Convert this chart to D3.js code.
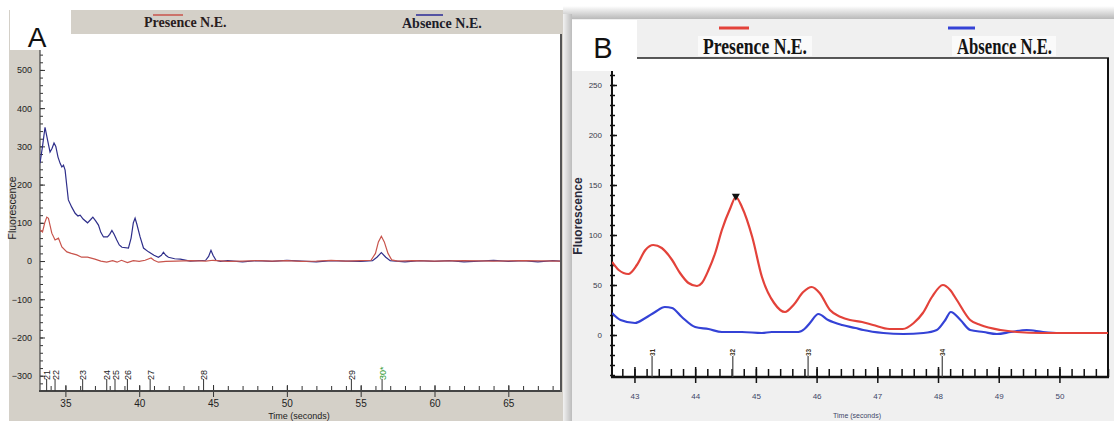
<!DOCTYPE html>
<html>
<head>
<meta charset="utf-8">
<script src="https://cdn.jsdelivr.net/npm/d3@7"></script>
<style>
body { margin: 0; background: #fff; }
</style>
</head>
<body>
<svg id="chart" width="1114" height="421" font-family="'Liberation Sans', Arial, sans-serif"></svg>
<script>
// ---- panel A data (time in seconds, fluorescence) ----
var aBlueTime = [33.28,33.45,33.62,33.8,33.96,34.1,34.23,34.35,34.5,34.65,34.76,34.87,34.98,35.1,35.2,35.43,35.66,35.85,36.0,36.2,36.5,36.7,36.86,37.05,37.24,37.4,37.58,37.85,38.0,38.15,38.3,38.48,38.65,38.83,39.27,39.45,39.6,39.72,39.85,40.06,40.29,40.63,41.0,41.3,41.5,41.64,41.8,41.98,42.4,42.78,43.45,44.0,44.5,44.7,44.86,45.0,45.2,45.5,46,47,48,49,50,51,52,53,54,55,55.8,56.1,56.4,56.7,57.0,58,59,60,61,62,63,64,65,66,67,68,68.5];
var aBlueVal  = [256,300,350,315,285,295,309,300,272,255,246,251,238,195,160,141,125,118,120,110,100,108,115,105,94,75,63,63,70,80,70,55,42,36,34,60,100,112,95,63,34,24,15,10,15,23,15,10,6,5,0,1,2,12,28,15,2,-1,1,-2,1,-1,2,0,-2,1,0,-1,1,10,22,10,1,-2,1,-1,1,-2,0,2,-1,1,-2,1,0];
var aRedTime  = [33.28,33.45,33.6,33.74,33.85,34.08,34.3,34.53,34.76,35.1,35.4,35.77,36.1,36.5,37.0,37.4,37.8,38.2,38.5,38.8,39.2,39.6,40.0,40.4,40.8,41.0,41.3,41.8,42.5,43.5,44.5,45,46,47,48,49,50,51,52,53,54,55,55.7,56.0,56.2,56.4,56.6,56.85,57.1,57.5,58.5,60,62,64,66,68.5];
var aRedVal   = [81,76,100,115,112,73,55,60,37,24,20,16,10,10,5,0,-3,1,-3,2,-4,1,-1,2,8,2,-3,-1,0,1,0,2,-1,0,1,0,1,-1,0,2,0,1,2,20,50,65,50,20,3,0,1,0,1,0,1,0];
var aYTicks = [-300,-200,-100,0,100,200,300,400,500];
var aXTicks = [35,40,45,50,55,60,65];
var aPeakTimes  = [33.73,34.3,36.17,37.8,38.36,39.2,40.74,44.36,54.37,56.45];
var aPeakLabels = ['21','22','23','24','25','26','27','28','29','30*'];

// ---- panel B data ----
var bRedTime  = [42.63,42.74,42.9,43.04,43.18,43.31,43.45,43.62,43.75,43.89,44.03,44.11,44.22,44.33,44.44,44.58,44.67,44.77,44.94,45.1,45.3,45.48,45.62,45.78,45.92,46.05,46.22,46.4,46.55,46.75,46.93,47.2,47.42,47.6,47.75,47.9,48.08,48.2,48.31,48.53,48.7,49.03,49.3,49.7,50.8];
var bRedVal   = [73,65,61,70,85,90,87,75,62,52,49,52,65,82,105,127,138,128,98,58,32,23,30,43,48,42,25,18,15,13,10,6,6,12,22,38,50,45,35,15,10,5,3,2,2];
var bBlueTime = [42.63,42.77,43.01,43.18,43.34,43.5,43.62,43.78,44.0,44.22,44.44,44.77,45.1,45.26,45.7,45.8,45.89,46.03,46.19,46.42,46.64,46.77,47.1,47.43,47.76,47.98,48.12,48.21,48.37,48.53,48.75,48.97,49.2,49.46,49.73,50.0,50.8];
var bBlueVal  = [22,15,12,17,23,28,27,18,8,6,3,3,2,3,3,6,12,21,15,10,7,5,2,1,2,5,15,23,15,5,3,1,3,5,3,2,2];
var bYTicks = [0,50,100,150,200,250];
var bXTicks = [43,44,45,46,47,48,49,50];
var bPeakTimes  = [43.29,44.62,45.86,48.07];
var bPeakLabels = ['31','32','33','34'];

var SANS = "'Liberation Sans', Arial, sans-serif";
var SERIF = "'Liberation Serif', 'Times New Roman', serif";

var svg = d3.select('#chart');
var defs = svg.append('defs');

function zip(t, v) {
    return t.map(function(d, i) { return {t: d, v: v[i]}; });
}

// ================= panel A =================
svg.append('rect').attr('x', 9).attr('y', 10).attr('width', 554).attr('height', 411).attr('fill', '#d4d0c8');
svg.append('rect').attr('x', 40).attr('y', 34).attr('width', 521).attr('height', 357).attr('fill', '#fff');

var xA = d3.scaleLinear().domain([33.28, 68.5]).range([40, 560]);
var yA = d3.scaleLinear().domain([-340, 594]).range([391, 34]);

defs.append('clipPath').attr('id', 'clipA')
    .append('rect').attr('x', 40).attr('y', 34).attr('width', 520).attr('height', 357);

// y axis
var gyA = svg.append('g').attr('transform', 'translate(40,0)');
gyA.append('g')
    .call(d3.axisRight(yA).tickValues(d3.range(-340, 594, 20)).tickSize(3).tickFormat(''))
    .call(function(g) { g.select('.domain').remove(); });
gyA.append('g')
    .call(d3.axisLeft(yA).tickValues(aYTicks).tickSize(5).tickPadding(3))
    .call(function(g) {
        g.select('.domain').remove();
        g.selectAll('.tick line').attr('x2', 5);
        g.selectAll('text').attr('font-size', 9).attr('fill', '#222').attr('font-family', SANS);
    });
gyA.selectAll('line').attr('stroke', '#333');

// x axis
var gxA = svg.append('g').attr('transform', 'translate(0,391)');
gxA.append('g')
    .call(d3.axisTop(xA).tickValues(d3.range(34, 69, 1)).tickSize(5).tickFormat(''))
    .call(function(g) { g.select('.domain').remove(); });
gxA.append('g')
    .call(d3.axisBottom(xA).tickValues(aXTicks).tickSize(6).tickPadding(3))
    .call(function(g) {
        g.select('.domain').remove();
        g.selectAll('.tick line').attr('y1', -6);
        g.selectAll('text').attr('font-size', 10).attr('fill', '#222').attr('font-family', SANS);
    });
gxA.selectAll('line').attr('stroke', '#333');

svg.append('line').attr('x1', 40).attr('x2', 40).attr('y1', 34).attr('y2', 392).attr('stroke', '#444').attr('stroke-width', 1.2);
svg.append('line').attr('x1', 39).attr('x2', 562).attr('y1', 391).attr('y2', 391).attr('stroke', '#444').attr('stroke-width', 2);
svg.append('line').attr('x1', 561).attr('x2', 561).attr('y1', 34).attr('y2', 392).attr('stroke', '#555').attr('stroke-width', 2);

// peak markers
var pkA = svg.append('g').selectAll('g').data(aPeakTimes).enter().append('g')
    .attr('transform', function(d) { return 'translate(' + xA(d) + ',0)'; });
pkA.append('line').attr('y1', 391).attr('y2', 379).attr('stroke', '#333');
pkA.append('text')
    .attr('transform', 'translate(3.5,380) rotate(-90)')
    .attr('font-size', 9)
    .attr('fill', function(d, i) { return i === aPeakLabels.length - 1 ? '#2e9a2e' : '#222'; })
    .text(function(d, i) { return aPeakLabels[i]; });

// traces
var lineA = d3.line().x(function(d) { return xA(d.t); }).y(function(d) { return yA(d.v); });
var plotA = svg.append('g').attr('clip-path', 'url(#clipA)');
plotA.append('path').datum(zip(aBlueTime, aBlueVal)).attr('d', lineA)
    .attr('fill', 'none').attr('stroke', '#2e2e8a').attr('stroke-width', 1.2);
plotA.append('path').datum(zip(aRedTime, aRedVal)).attr('d', lineA)
    .attr('fill', 'none').attr('stroke', '#c8544c').attr('stroke-width', 1.2);

svg.append('text').attr('transform', 'translate(16,208) rotate(-90)')
    .attr('text-anchor', 'middle').attr('font-size', 10.5).attr('fill', '#222').text('Fluorescence');
svg.append('text').attr('x', 299).attr('y', 419)
    .attr('text-anchor', 'middle').attr('font-size', 9).attr('fill', '#222').text('Time (seconds)');

// legend A
svg.append('line').attr('x1', 153).attr('x2', 183).attr('y1', 15).attr('y2', 15).attr('stroke', '#c8544c').attr('stroke-width', 1.5);
svg.append('text').attr('x', 144).attr('y', 27).attr('font-size', 14).attr('font-weight', 'bold')
    .attr('font-family', SERIF).attr('fill', '#2a1d1d').text('Presence N.E.');
svg.append('line').attr('x1', 416).attr('x2', 443).attr('y1', 15).attr('y2', 15).attr('stroke', '#2a2a96').attr('stroke-width', 1.5);
svg.append('text').attr('x', 402).attr('y', 28).attr('font-size', 14).attr('font-weight', 'bold')
    .attr('font-family', SERIF).attr('fill', '#1d1d2a').text('Absence N.E.');

svg.append('rect').attr('x', 10).attr('y', 10).attr('width', 61).attr('height', 40).attr('fill', '#fff');
svg.append('text').attr('x', 37).attr('y', 47).attr('text-anchor', 'middle').attr('font-size', 28).attr('fill', '#111').text('A');

// ================= panel B =================
var gTop = defs.append('linearGradient').attr('id', 'shTop').attr('x1', 0).attr('x2', 0).attr('y1', 0).attr('y2', 1);
gTop.append('stop').attr('offset', '0%').attr('stop-color', '#ffffff');
gTop.append('stop').attr('offset', '100%').attr('stop-color', '#b4b4b4');
var gLeft = defs.append('linearGradient').attr('id', 'shLeft').attr('x1', 0).attr('x2', 1).attr('y1', 0).attr('y2', 0);
gLeft.append('stop').attr('offset', '0%').attr('stop-color', '#f2f2f2');
gLeft.append('stop').attr('offset', '100%').attr('stop-color', '#bcbcbc');

svg.append('rect').attr('x', 563).attr('y', 6).attr('width', 551).attr('height', 14).attr('fill', 'url(#shTop)');
svg.append('rect').attr('x', 563).attr('y', 14).attr('width', 9).attr('height', 407).attr('fill', 'url(#shLeft)');
svg.append('rect').attr('x', 572).attr('y', 19).attr('width', 542).attr('height', 402).attr('fill', '#f0f0f0');
svg.append('rect').attr('x', 612).attr('y', 58).attr('width', 496).attr('height', 319).attr('fill', '#fff');

var xB = d3.scaleLinear().domain([42.63, 50.8]).range([612, 1108]);
var yB = d3.scaleLinear().domain([-42, 277]).range([377, 58]);

defs.append('clipPath').attr('id', 'clipB')
    .append('rect').attr('x', 612).attr('y', 58).attr('width', 496).attr('height', 319);

var gyB = svg.append('g').attr('transform', 'translate(612,0)');
gyB.append('g')
    .call(d3.axisRight(yB).tickValues(d3.range(-40, 277, 10)).tickSize(3).tickFormat(''))
    .call(function(g) { g.select('.domain').remove(); g.selectAll('.tick line').attr('x1', -2); });
gyB.append('g')
    .call(d3.axisLeft(yB).tickValues(bYTicks).tickSize(5).tickPadding(5))
    .call(function(g) {
        g.select('.domain').remove();
        g.selectAll('.tick line').attr('x2', 5);
        g.selectAll('text').attr('font-size', 8).attr('fill', '#3a3a4a').attr('font-family', SANS);
    });
gyB.selectAll('line').attr('stroke', '#111').attr('stroke-width', 1.5);

var gxB = svg.append('g').attr('transform', 'translate(0,377)');
gxB.append('g')
    .call(d3.axisTop(xB).tickValues(d3.range(42.8, 50.81, 0.2)).tickSize(8).tickFormat(''))
    .call(function(g) { g.select('.domain').remove(); });
gxB.append('g')
    .call(d3.axisBottom(xB).tickValues(bXTicks).tickSize(6).tickPadding(10))
    .call(function(g) {
        g.select('.domain').remove();
        g.selectAll('.tick line').attr('y1', -10);
        g.selectAll('text').attr('font-size', 8).attr('fill', '#3e4668').attr('font-family', SANS);
    });
gxB.selectAll('line').attr('stroke', '#111').attr('stroke-width', 1.5);

// frame
svg.append('line').attr('x1', 612).attr('x2', 612).attr('y1', 58).attr('y2', 378).attr('stroke', '#111').attr('stroke-width', 2);
svg.append('line').attr('x1', 611).attr('x2', 1109).attr('y1', 377).attr('y2', 377).attr('stroke', '#111').attr('stroke-width', 2.5);
svg.append('line').attr('x1', 612).attr('x2', 1109).attr('y1', 58).attr('y2', 58).attr('stroke', '#222').attr('stroke-width', 1.5);
svg.append('line').attr('x1', 1108).attr('x2', 1108).attr('y1', 58).attr('y2', 378).attr('stroke', '#111').attr('stroke-width', 2);

// peak markers
var pkB = svg.append('g').selectAll('g').data(bPeakTimes).enter().append('g')
    .attr('transform', function(d) { return 'translate(' + xB(d) + ',0)'; });
pkB.append('line').attr('y1', 377).attr('y2', 356).attr('stroke', '#444').attr('stroke-width', 1.2);
pkB.append('text')
    .attr('transform', 'translate(2.5,356) rotate(-90)')
    .attr('font-size', 6.5).attr('font-weight', 'bold').attr('fill', '#3a3020')
    .text(function(d, i) { return bPeakLabels[i]; });

var lineB = d3.line().curve(d3.curveMonotoneX)
    .x(function(d) { return xB(d.t); }).y(function(d) { return yB(d.v); });
var plotB = svg.append('g').attr('clip-path', 'url(#clipB)');
plotB.append('path').datum(zip(bBlueTime, bBlueVal)).attr('d', lineB)
    .attr('fill', 'none').attr('stroke', '#3442d6').attr('stroke-width', 2.2);
plotB.append('path').datum(zip(bRedTime, bRedVal)).attr('d', lineB)
    .attr('fill', 'none').attr('stroke', '#e3423a').attr('stroke-width', 2.2);

// peak apex marker
var apex = d3.greatestIndex(bRedVal);
svg.append('path')
    .attr('d', d3.symbol(d3.symbolTriangle, 28)())
    .attr('transform', 'translate(' + xB(bRedTime[apex]) + ',' + (yB(bRedVal[apex]) - 1) + ') rotate(180)')
    .attr('fill', '#111');

svg.append('text').attr('transform', 'translate(582,216) rotate(-90)')
    .attr('text-anchor', 'middle').attr('font-size', 12).attr('font-weight', 'bold').attr('fill', '#2a2a3a').text('Fluorescence');
svg.append('text').attr('x', 857).attr('y', 418)
    .attr('text-anchor', 'middle').attr('font-size', 7).attr('fill', '#3e4668').text('Time (seconds)');

// legend B
svg.append('rect').attr('x', 698).attr('y', 36).attr('width', 114).attr('height', 20).attr('fill', '#fafafa');
svg.append('rect').attr('x', 952).attr('y', 36).attr('width', 104).attr('height', 20).attr('fill', '#fafafa');
svg.append('line').attr('x1', 719).attr('x2', 749).attr('y1', 28).attr('y2', 28).attr('stroke', '#e3423a').attr('stroke-width', 3);
svg.append('line').attr('x1', 948).attr('x2', 975).attr('y1', 28).attr('y2', 28).attr('stroke', '#3442d6').attr('stroke-width', 3);
svg.append('text').attr('transform', 'translate(703,54) scale(1,1.35)')
    .attr('font-size', 17).attr('font-weight', 'bold').attr('textLength', 104).attr('lengthAdjust', 'spacingAndGlyphs')
    .attr('font-family', SERIF).attr('fill', '#141414').text('Presence N.E.');
svg.append('text').attr('transform', 'translate(957,54) scale(1,1.35)')
    .attr('font-size', 17).attr('font-weight', 'bold').attr('textLength', 95).attr('lengthAdjust', 'spacingAndGlyphs')
    .attr('font-family', SERIF).attr('fill', '#141414').text('Absence N.E.');

svg.append('rect').attr('x', 572).attr('y', 20).attr('width', 65).attr('height', 51).attr('fill', '#fff');
svg.append('text').attr('x', 603).attr('y', 58).attr('text-anchor', 'middle').attr('font-size', 29).attr('fill', '#111').text('B');
</script>
</body>
</html>
